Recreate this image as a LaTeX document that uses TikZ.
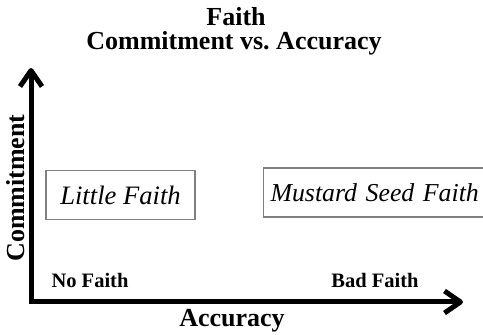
\documentclass[tikz,border=0pt]{standalone}
\usepackage{fontspec}
\setmainfont{Liberation Serif}
\usetikzlibrary{arrows.meta}

\tikzset{
    axis/.style={line width=2.5pt,{Straight Barb[length=8pt,width=11pt,line join=round]}-{Straight Barb[length=8pt,width=11pt,line join=round]}},
    faithbox/.style={draw=gray,line width=0.6pt,inner ysep=0pt,minimum height=24.5pt,font=\fontsize{13.3}{15}\selectfont\itshape},
    corner/.style={anchor=base,inner sep=0pt,font=\fontsize{10.25}{12}\selectfont\bfseries},
    axislabel/.style={inner sep=0pt,font=\fontsize{13}{15}\selectfont\bfseries}
}

\begin{document}
\begin{tikzpicture}[x=0.5pt,y=-0.5pt]
    \clip (0,0) rectangle (483,335);

    % title
    \node[axislabel,anchor=base] (title) at (236,26) {Faith};
    \node[axislabel,anchor=base] (subtitle) at (234,50) {Commitment vs.\ Accuracy};

    % axes
    \coordinate (origin) at (31,302);
    \coordinate (ytip) at (31,68);
    \coordinate (xtip) at (463,302);
    \draw[axis] (ytip) -- (origin) -- (xtip);

    \node[axislabel,anchor=base] (xlabel) at (232,327) {Accuracy};
    \node[axislabel,anchor=base,rotate=90] (ylabel) at (25,188) {Commitment};

    % corners
    \node[corner] (nofaith) at (90,288) {No Faith};
    \node[corner] (badfaith) at (375,288) {Bad Faith};

    % boxes
    \node[faithbox,minimum width=74.5pt] (little) at (120.5,195) {Little Faith};
    \node[faithbox,font=\fontsize{12.9}{15}\selectfont\itshape,anchor=west,inner xsep=3.5pt,minimum width=115pt,align=left,text width=108pt] (mustard) at (263,192.5) {Mustard Seed Faith};
\end{tikzpicture}
\end{document}
